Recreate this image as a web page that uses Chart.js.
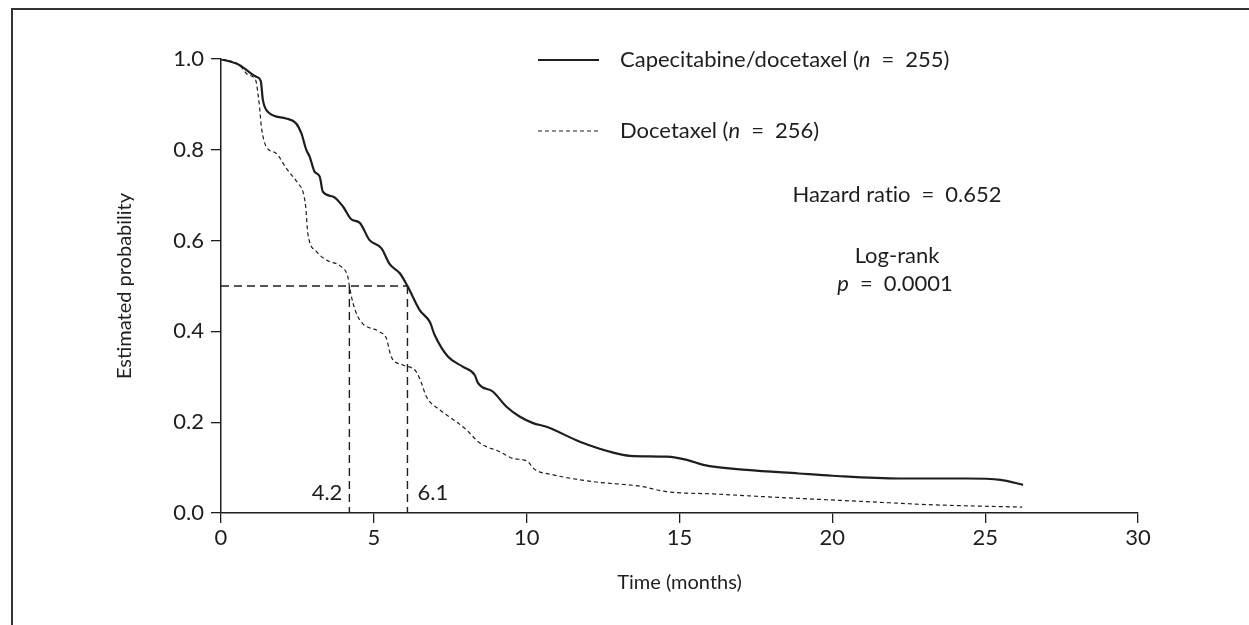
<!DOCTYPE html>
<html>
<head>
<meta charset="utf-8">
<script src="https://cdn.jsdelivr.net/npm/chart.js@4.4.0/dist/chart.umd.min.js"></script>
<style>
  html, body { margin: 0; padding: 0; background: #fff; }
  #wrap { width: 1249px; height: 625px; }
</style>
</head>
<body>
<div id="wrap"><canvas id="km" width="1249" height="625"></canvas></div>
<script>
// Kaplan-Meier curves: time in months, estimated probability
const capeTimes = [0, 0.6, 0.83, 1.15, 1.3, 1.37, 1.53, 2.13, 2.46, 2.63, 2.79, 2.9, 3.06, 3.23, 3.33, 3.66, 3.99, 4.26, 4.54, 4.86, 5.25, 5.52, 5.85, 6.1, 6.5, 6.83, 6.99, 7.43, 7.92, 8.3, 8.41, 8.9, 9.34, 9.78, 10.21, 10.65, 11.74, 12.83, 13.38, 14.58, 15.24, 15.78, 17.2, 18.9, 20.0, 22.2, 24.4, 25.5, 26.24];
const capeProb  = [1.0, 0.987, 0.976, 0.961, 0.952, 0.91, 0.884, 0.869, 0.858, 0.836, 0.80, 0.785, 0.752, 0.741, 0.708, 0.697, 0.675, 0.647, 0.639, 0.601, 0.583, 0.548, 0.528, 0.5, 0.447, 0.421, 0.392, 0.344, 0.322, 0.304, 0.286, 0.267, 0.234, 0.212, 0.198, 0.19, 0.157, 0.133, 0.126, 0.124, 0.117, 0.106, 0.095, 0.087, 0.082, 0.076, 0.076, 0.073, 0.062];

const doceTimes = [0, 0.6, 0.83, 1.1, 1.15, 1.26, 1.32, 1.48, 1.81, 2.14, 2.52, 2.68, 2.77, 2.84, 3.12, 3.45, 3.94, 4.15, 4.2, 4.32, 4.54, 5.19, 5.41, 5.57, 5.95, 6.39, 6.56, 6.72, 7.16, 7.7, 8.03, 8.47, 9.12, 9.56, 10.0, 10.27, 10.87, 12.18, 13.71, 14.58, 16.11, 17.75, 18.95, 21.13, 23.31, 26.21];
const doceProb  = [1.0, 0.987, 0.968, 0.957, 0.95, 0.895, 0.851, 0.807, 0.792, 0.759, 0.726, 0.708, 0.675, 0.616, 0.576, 0.557, 0.542, 0.52, 0.5, 0.462, 0.425, 0.399, 0.385, 0.344, 0.326, 0.311, 0.286, 0.256, 0.227, 0.201, 0.183, 0.154, 0.135, 0.12, 0.115, 0.096, 0.084, 0.069, 0.059, 0.047, 0.042, 0.036, 0.032, 0.025, 0.018, 0.013];

// median survival markers
const medianTimes = [4.2, 6.1];
const medianLevel = 0.5;

const xTicks = [0, 5, 10, 15, 20, 25, 30];
const yTicks = [0, 0.2, 0.4, 0.6, 0.8, 1.0];

const seriesNames = ['Capecitabine/docetaxel', 'Docetaxel'];
const seriesN = [255, 256];
const hazardRatio = '0.652';
const logRankP = '0.0001';

const INK = '#1e1e1e';
const FONT = 'Lato, "Open Sans", sans-serif';
const TEXT_SIZE = 22;
const EQ = '\u2002=\u2002';
const curveDash = [4, 3];
const medianDash = [8, 5];

function toPoints(xs, ys) {
  return xs.map(function(x, i) { return { x: x, y: ys[i] }; });
}

// dashed guide lines from each median down to the time axis
const medianLines = medianTimes.map(function(t) {
  return {
    data: [{ x: t, y: medianLevel }, { x: t, y: 0 }],
    borderColor: INK, borderWidth: 1.4, borderDash: medianDash,
    pointRadius: 0, tension: 0
  };
});

// text drawn in pieces so "n" and "p" can be italic
function drawRich(ctx, parts, x, y, align) {
  let total = 0;
  parts.forEach(function(p) {
    ctx.font = (p.italic ? 'italic ' : '') + TEXT_SIZE + 'px ' + FONT;
    p.w = ctx.measureText(p.text).width;
    total += p.w;
  });
  let cx = align === 'center' ? x - total / 2 : x;
  ctx.textAlign = 'left';
  ctx.textBaseline = 'middle';
  parts.forEach(function(p) {
    ctx.font = (p.italic ? 'italic ' : '') + TEXT_SIZE + 'px ' + FONT;
    ctx.fillText(p.text, cx, y);
    cx += p.w;
  });
}

const annotations = {
  id: 'kmAnnotations',
  afterDraw: function(chart) {
    const ctx = chart.ctx;
    const xs = chart.scales.x;
    const ys = chart.scales.y;
    ctx.save();

    // figure frame
    ctx.strokeStyle = '#333';
    ctx.lineWidth = 2;
    ctx.beginPath();
    ctx.moveTo(12, 625);
    ctx.lineTo(12, 9);
    ctx.lineTo(1249, 9);
    ctx.stroke();

    ctx.fillStyle = INK;
    ctx.strokeStyle = INK;

    // legend
    const legendRows = [60, 131];
    seriesNames.forEach(function(name, i) {
      ctx.lineWidth = i === 0 ? 2 : 1.2;
      ctx.setLineDash(i === 0 ? [] : curveDash);
      ctx.beginPath();
      ctx.moveTo(538, legendRows[i]);
      ctx.lineTo(599, legendRows[i]);
      ctx.stroke();
      drawRich(ctx, [
        { text: name + ' (' },
        { text: 'n', italic: true },
        { text: EQ + seriesN[i] + ')' }
      ], 620, legendRows[i], 'left');
    });
    ctx.setLineDash([]);

    // statistics (ZWNJ keeps "ti" from forming a ligature)
    drawRich(ctx, [{ text: 'Hazard rat\u200Cio' + EQ + hazardRatio }], 897, 195, 'center');
    drawRich(ctx, [{ text: 'Log-rank' }], 897, 256, 'center');
    drawRich(ctx, [{ text: 'p', italic: true }, { text: EQ + logRankP }], 895, 284, 'center');

    // median labels beside the guide lines
    const ly = ys.getPixelForValue(0.045);
    ctx.font = TEXT_SIZE + 'px ' + FONT;
    ctx.textBaseline = 'middle';
    ctx.textAlign = 'right';
    ctx.fillText(medianTimes[0].toFixed(1), xs.getPixelForValue(medianTimes[0]) - 7, ly);
    ctx.textAlign = 'left';
    ctx.fillText(medianTimes[1].toFixed(1), xs.getPixelForValue(medianTimes[1]) + 10, ly);

    ctx.restore();
  }
};

const axisGrid = {
  drawOnChartArea: false,
  drawTicks: true,
  tickLength: 10,
  color: INK,
  lineWidth: 1.3
};

new Chart(document.getElementById('km'), {
  type: 'line',
  data: {
    datasets: [
      {
        label: seriesNames[0],
        data: toPoints(capeTimes, capeProb),
        borderColor: INK, borderWidth: 2.2,
        pointRadius: 0, cubicInterpolationMode: 'monotone'
      },
      {
        label: seriesNames[1],
        data: toPoints(doceTimes, doceProb),
        borderColor: INK, borderWidth: 1.2, borderDash: curveDash,
        pointRadius: 0, cubicInterpolationMode: 'monotone'
      },
      {
        data: [{ x: 0, y: medianLevel }, { x: medianTimes[1], y: medianLevel }],
        borderColor: INK, borderWidth: 1.4, borderDash: medianDash,
        pointRadius: 0, tension: 0
      }
    ].concat(medianLines)
  },
  options: {
    responsive: false,
    animation: false,
    devicePixelRatio: 1,
    layout: { padding: { left: 0, top: 59, right: 111, bottom: 0 } },
    plugins: { legend: { display: false }, tooltip: { enabled: false } },
    scales: {
      x: {
        type: 'linear', min: 0, max: 30,
        afterBuildTicks: function(scale) { scale.ticks = xTicks.map(function(v) { return { value: v }; }); },
        afterFit: function(scale) { scale.height = 112; },
        grid: axisGrid,
        border: { display: true, color: INK, width: 1.5 },
        ticks: { color: INK, font: { family: FONT, size: TEXT_SIZE }, padding: 2, maxRotation: 0 },
        title: {
          display: true, text: 'Time (months)', color: INK,
          font: { family: FONT, size: 20 }, padding: { top: 0, bottom: 30 }
        }
      },
      y: {
        type: 'linear', min: 0, max: 1,
        afterBuildTicks: function(scale) { scale.ticks = yTicks.map(function(v) { return { value: v }; }); },
        afterFit: function(scale) { scale.width = 221; },
        grid: axisGrid,
        border: { display: true, color: INK, width: 1.5 },
        ticks: {
          color: INK, font: { family: FONT, size: TEXT_SIZE }, padding: 7,
          callback: function(v) { return v.toFixed(1); }
        },
        title: {
          display: true, text: 'Estimated probability', color: INK,
          font: { family: FONT, size: 20 }, padding: { top: 113, bottom: 0 }
        }
      }
    }
  },
  plugins: [annotations]
});
</script>
</body>
</html>
